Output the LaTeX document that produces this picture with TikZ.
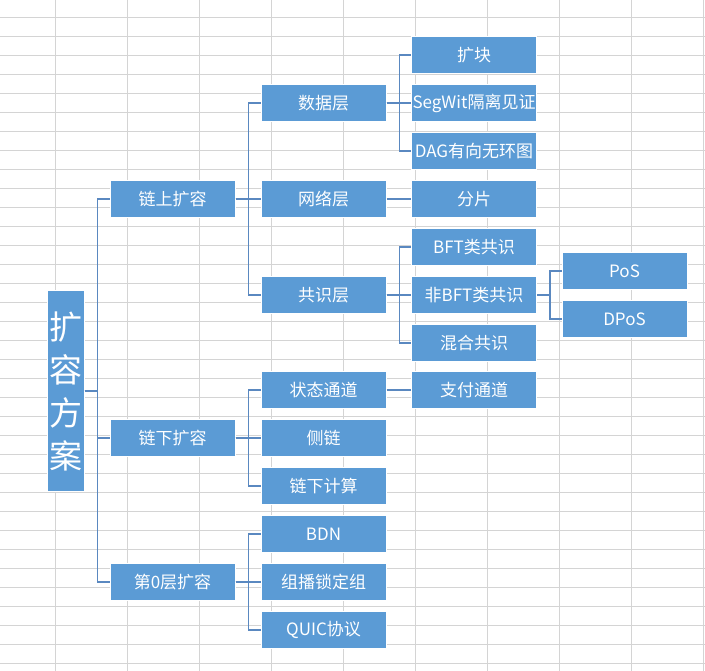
\documentclass[tikz,border=0pt]{standalone}
\usepackage{fontspec}
\setmainfont{Noto Sans CJK SC}
\usepackage{tikz}
\usetikzlibrary{positioning}

\definecolor{boxblue}{HTML}{5B9BD5}
\definecolor{linkblue}{HTML}{5A88C0}
\definecolor{cellgray}{RGB}{212,212,212}

\begin{document}
\begin{tikzpicture}[x=1pt,y=-1pt,
		box/.style={rectangle,fill=boxblue,draw=white,line width=1pt,text=white,
			minimum width=125pt,minimum height=37pt,inner sep=0pt,
			font=\fontsize{17}{19}\selectfont},
		rootbox/.style={box,minimum width=37pt,minimum height=200pt,align=center,
			font=\fontsize{33}{43}\selectfont},
		elbow/.style={to path={-- ++(13pt,0) |- (\tikztotarget)}},
		link/.style={draw=linkblue,line width=1.3pt}]
		% sheet
		\useasboundingbox (0,0) rectangle (705,671);
		\fill[white] (0,0) rectangle (705,671);
		\foreach \k in {0,...,34}
			\draw[cellgray,line width=1pt] (0,{17.3+19*\k}) -- (705,{17.3+19*\k});
		\foreach \k in {0,...,9}
			\draw[cellgray,line width=1pt] ({55+72*\k},0) -- ({55+72*\k},671);

		\node[rootbox] (plan) at (65.5,391) {扩\\容\\方\\案};

		\node[box] (onchain)  at (172.5,199) {链上扩容};
		\node[box] (offchain) at (172.5,438) {链下扩容};
		\node[box] (layer0)   at (172.5,582) {第0层扩容};

		\node[box] (data)   at (323.5,103) {数据层};
		\node[box] (net)    at (323.5,199) {网络层};
		\node[box] (cons)   at (323.5,295) {共识层};
		\node[box] (state)  at (323.5,390) {状态通道};
		\node[box] (side)   at (323.5,438) {侧链};
		\node[box] (offcmp) at (323.5,486) {链下计算};
		\node[box] (bdn)    at (323.5,534) {BDN};
		\node[box] (mcast)  at (323.5,582) {组播锁定组};
		\node[box] (quic)   at (323.5,630) {QUIC协议};

		\node[box] (block)  at (474,55)  {扩块};
		\node[box] (segwit) at (474,103) {SegWit隔离见证};
		\node[box] (dag)    at (474,151) {DAG有向无环图};
		\node[box] (shard)  at (474,199) {分片};
		\node[box] (bft)    at (474,247) {BFT类共识};
		\node[box] (nbft)   at (474,295) {非BFT类共识};
		\node[box] (hybrid) at (474,343) {混合共识};
		\node[box] (pay)    at (474,390) {支付通道};

		\node[box] (pos)  at (624.5,271) {PoS};
		\node[box] (dpos) at (624.5,319) {DPoS};

		\path[link] (plan.east) edge[elbow] (onchain.west)
		edge[elbow] (offchain.west)
		edge[elbow] (layer0.west)
		(onchain.east) edge[elbow] (data.west)
		edge[elbow] (net.west)
		edge[elbow] (cons.west)
		(offchain.east) edge[elbow] (state.west)
		edge[elbow] (side.west)
		edge[elbow] (offcmp.west)
		(layer0.east) edge[elbow] (bdn.west)
		edge[elbow] (mcast.west)
		edge[elbow] (quic.west)
		(data.east) edge[elbow] (block.west)
		edge[elbow] (segwit.west)
		edge[elbow] (dag.west)
		(net.east) edge[elbow] (shard.west)
		(cons.east) edge[elbow] (bft.west)
		edge[elbow] (nbft.west)
		edge[elbow] (hybrid.west)
		(state.east) edge[elbow] (pay.west)
		(nbft.east) edge[elbow] (pos.west)
		edge[elbow] (dpos.west);
	\end{tikzpicture}
\end{document}
